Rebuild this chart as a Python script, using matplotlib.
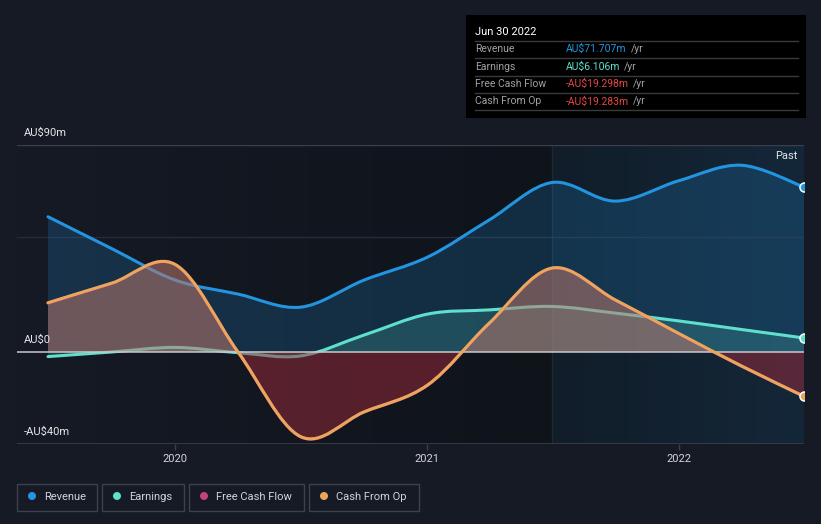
import matplotlib
matplotlib.use('Agg')
import numpy as np
import pandas as pd
import matplotlib.pyplot as plt
from matplotlib.path import Path
from matplotlib.patches import PathPatch, Rectangle, Ellipse
from matplotlib.colors import LinearSegmentedColormap

# quarterly values, AU$ millions
quarter_ends = ['2019-06-30', '2019-09-30', '2019-12-31', '2020-03-31', '2020-06-30',
                '2020-09-30', '2020-12-31', '2021-03-31', '2021-06-30', '2021-09-30',
                '2021-12-31', '2022-03-31', '2022-06-30']
revenue = [58.8, 45.0, 31.3, 25.2, 19.5, 31.3, 41.3, 57.4, 73.7, 65.6, 74.5, 81.2, 71.707]
earnings = [-2.0, 0.0, 2.0, -0.3, -1.7, 7.4, 16.5, 18.3, 19.8, 16.9, 13.5, 9.8, 6.106]
free_cash_flow = [21.3, 29.8, 38.0, 0.0, -36.9, -26.1, -14.4, 12.4, 36.4, 22.5, 7.9, -6.1, -19.298]
cash_from_op = [21.4, 29.9, 38.1, 0.1, -36.8, -26.0, -14.3, 12.5, 36.5, 22.6, 8.0, -6.0, -19.283]

year_ticks = [2020, 2021, 2022]
y_labels = {90: 'AU\\$90m', 0: 'AU\\$0', -40: '-AU\\$40m'}

tooltip_title = 'Jun 30 2022'
tooltip_rows = [('Revenue', 'AU\\$71.707m'), ('Earnings', 'AU\\$6.106m'),
                ('Free Cash Flow', '-AU\\$19.298m'), ('Cash From Op', '-AU\\$19.283m')]
legend_names = ['Revenue', 'Earnings', 'Free Cash Flow', 'Cash From Op']

BG = '#151a25'
C_REV = '#2394df'
C_EARN = '#5fe0cd'
C_FCF = '#c4427e'
C_CFO = '#eaa75b'
C_NEG = '#e84545'
W, H = 821, 524

plt.rcParams['font.family'] = ['Roboto', 'DejaVu Sans']

d = pd.to_datetime(quarter_ends)
t = np.asarray(d.year + d.dayofyear / 365.0, dtype=float)


def smooth_path(x, y, close_to_zero=False):
    pts = np.column_stack([x, y])
    n = len(pts)
    verts = [pts[0]]
    codes = [Path.MOVETO]
    for i in range(n - 1):
        p0 = pts[max(i - 1, 0)]
        p1 = pts[i]
        p2 = pts[i + 1]
        p3 = pts[min(i + 2, n - 1)]
        verts += [p1 + (p2 - p0) / 6.0, p2 - (p3 - p1) / 6.0, p2]
        codes += [Path.CURVE4] * 3
    if close_to_zero:
        verts += [(x[-1], 0), (x[0], 0), (x[0], 0)]
        codes += [Path.LINETO, Path.LINETO, Path.CLOSEPOLY]
    return Path(verts, codes)


def add_series(ax, y, color, z, fill_pos=None, fill_neg=None, alpha=0.2, line=True):
    if fill_pos or fill_neg:
        for col, (lo, hi) in ((fill_pos, (0, 500)), (fill_neg, (-500, 0))):
            if col is None:
                continue
            p = PathPatch(smooth_path(t, y, True), facecolor=col, edgecolor='none',
                          alpha=alpha, zorder=z)
            ax.add_patch(p)
            p.set_clip_path(Rectangle((2000, lo), 100, hi - lo, transform=ax.transData))
    if line:
        ax.add_patch(PathPatch(smooth_path(t, y), facecolor='none', edgecolor=color,
                               lw=2.2, capstyle='round', zorder=z + 1))


def px(x, y):
    return x / W, 1 - y / H


def main():
    fig = plt.figure(figsize=(W / 100, H / 100), dpi=100, facecolor=BG)
    ax = fig.add_axes([17 / W, 1 - 444 / H, 787 / W, 299 / H])
    ax.set_facecolor(BG)
    x_right = t[-1]
    x_left = x_right - 787 / 252.0
    split = t[8]

    # background shading, past year highlighted
    cm_left = LinearSegmentedColormap.from_list('l', [BG, '#0f131a'])
    cm_right = LinearSegmentedColormap.from_list('r', ['#111d29', '#142739'])
    grad = np.linspace(0, 1, 256).reshape(1, -1)
    ax.imshow(grad, cmap=cm_left, extent=[x_left, split, -40, 90], aspect='auto', zorder=0)
    ax.imshow(grad, cmap=cm_right, extent=[split, x_right, -40, 90], aspect='auto', zorder=0)
    ax.axvline(split, color='#1c2a38', lw=1, zorder=1)

    ax.axhline(90, color='#3a404b', lw=1, zorder=1)
    ax.axhline(50, color='#262c37', lw=1, zorder=1)
    ax.axhline(-40, color='#3a404b', lw=1.2, zorder=1)

    add_series(ax, revenue, C_REV, 2, fill_pos=C_REV, alpha=0.2)
    add_series(ax, earnings, C_EARN, 4, fill_pos=C_EARN, fill_neg=C_EARN, alpha=0.18)
    add_series(ax, free_cash_flow, C_FCF, 6, fill_pos='#b8786c', alpha=0.55, line=False)
    add_series(ax, free_cash_flow, C_FCF, 6, fill_neg='#9c2a3a', alpha=0.5)
    ax.axhline(0, color='#c9c9cc', lw=1.1, zorder=7.5)
    add_series(ax, cash_from_op, C_CFO, 8, alpha=0)

    for y, c in ((revenue, C_REV), (earnings, C_EARN), (cash_from_op, C_CFO)):
        ax.plot(t[-1], y[-1], 'o', ms=6.5, mfc=c, mec='white', mew=1.1, zorder=10)

    ax.set_xlim(x_left, x_right)
    ax.set_ylim(-40, 90)
    for s in ax.spines.values():
        s.set_visible(False)
    ax.set_yticks([])
    ax.set_xticks(year_ticks)
    ax.set_xticklabels([str(y) for y in year_ticks])
    ax.tick_params(axis='x', length=4, width=1, color='#3a404b', labelcolor='#d4d4d8',
                   labelsize=8, pad=3)

    for val, lab in y_labels.items():
        ypix = 352 - val * 2.3 - 12
        fig.text(*px(24, ypix), lab, color='#e6e6e8', fontsize=8, va='center')
    fig.text(*px(797, 156), 'Past', color='#e6e6e8', fontsize=8, ha='right', va='center')

    # tooltip box
    fig.patches.append(Rectangle(px(466, 118), 340 / W, 103 / H, transform=fig.transFigure,
                                 facecolor='#000000', edgecolor='none', zorder=1))
    fig.text(*px(475, 32), tooltip_title, color='white', fontsize=8, va='center')
    val_colors = [C_REV, C_EARN, C_NEG, C_NEG]
    r = fig.canvas.get_renderer()
    for i, ((name, val), vc) in enumerate(zip(tooltip_rows, val_colors)):
        yy = 49 + i * 17.5
        sep = yy - 8.5
        fig.add_artist(plt.Line2D([475 / W, 798 / W], [1 - sep / H] * 2,
                                  transform=fig.transFigure, color='#3a3a3a', lw=1))
        fig.text(*px(475, yy), name, color='#a2a2a6', fontsize=7.5, va='center')
        tv = fig.text(*px(566, yy), val, color=vc, fontsize=7.5, va='center')
        x1 = tv.get_window_extent(r).x1
        fig.text(x1 / W + 4 / W, 1 - yy / H, '/yr', color='#a2a2a6', fontsize=7.5, va='center')
    fig.add_artist(plt.Line2D([475 / W, 798 / W], [1 - 110 / H] * 2,
                              transform=fig.transFigure, color='#3a3a3a', lw=1))

    # legend
    boxes = [(17, 97), (102, 184), (189, 304), (309, 419)]
    for (x0, x1), name, c in zip(boxes, legend_names, [C_REV, C_EARN, C_FCF, C_CFO]):
        fig.patches.append(Rectangle(px(x0, 511), (x1 - x0) / W, 27 / H,
                                     transform=fig.transFigure, facecolor='none',
                                     edgecolor='#3b414d', lw=1))
        fig.add_artist(Ellipse(px(x0 + 15, 496), 8 / W, 8 / H, transform=fig.transFigure,
                               facecolor=c, edgecolor='none'))
        fig.text(*px(x0 + 27, 496.5), name, color='#d4d4d8', fontsize=8, va='center')

    plt.savefig('out.png', dpi=100, facecolor=BG)


if __name__ == '__main__':
    main()
